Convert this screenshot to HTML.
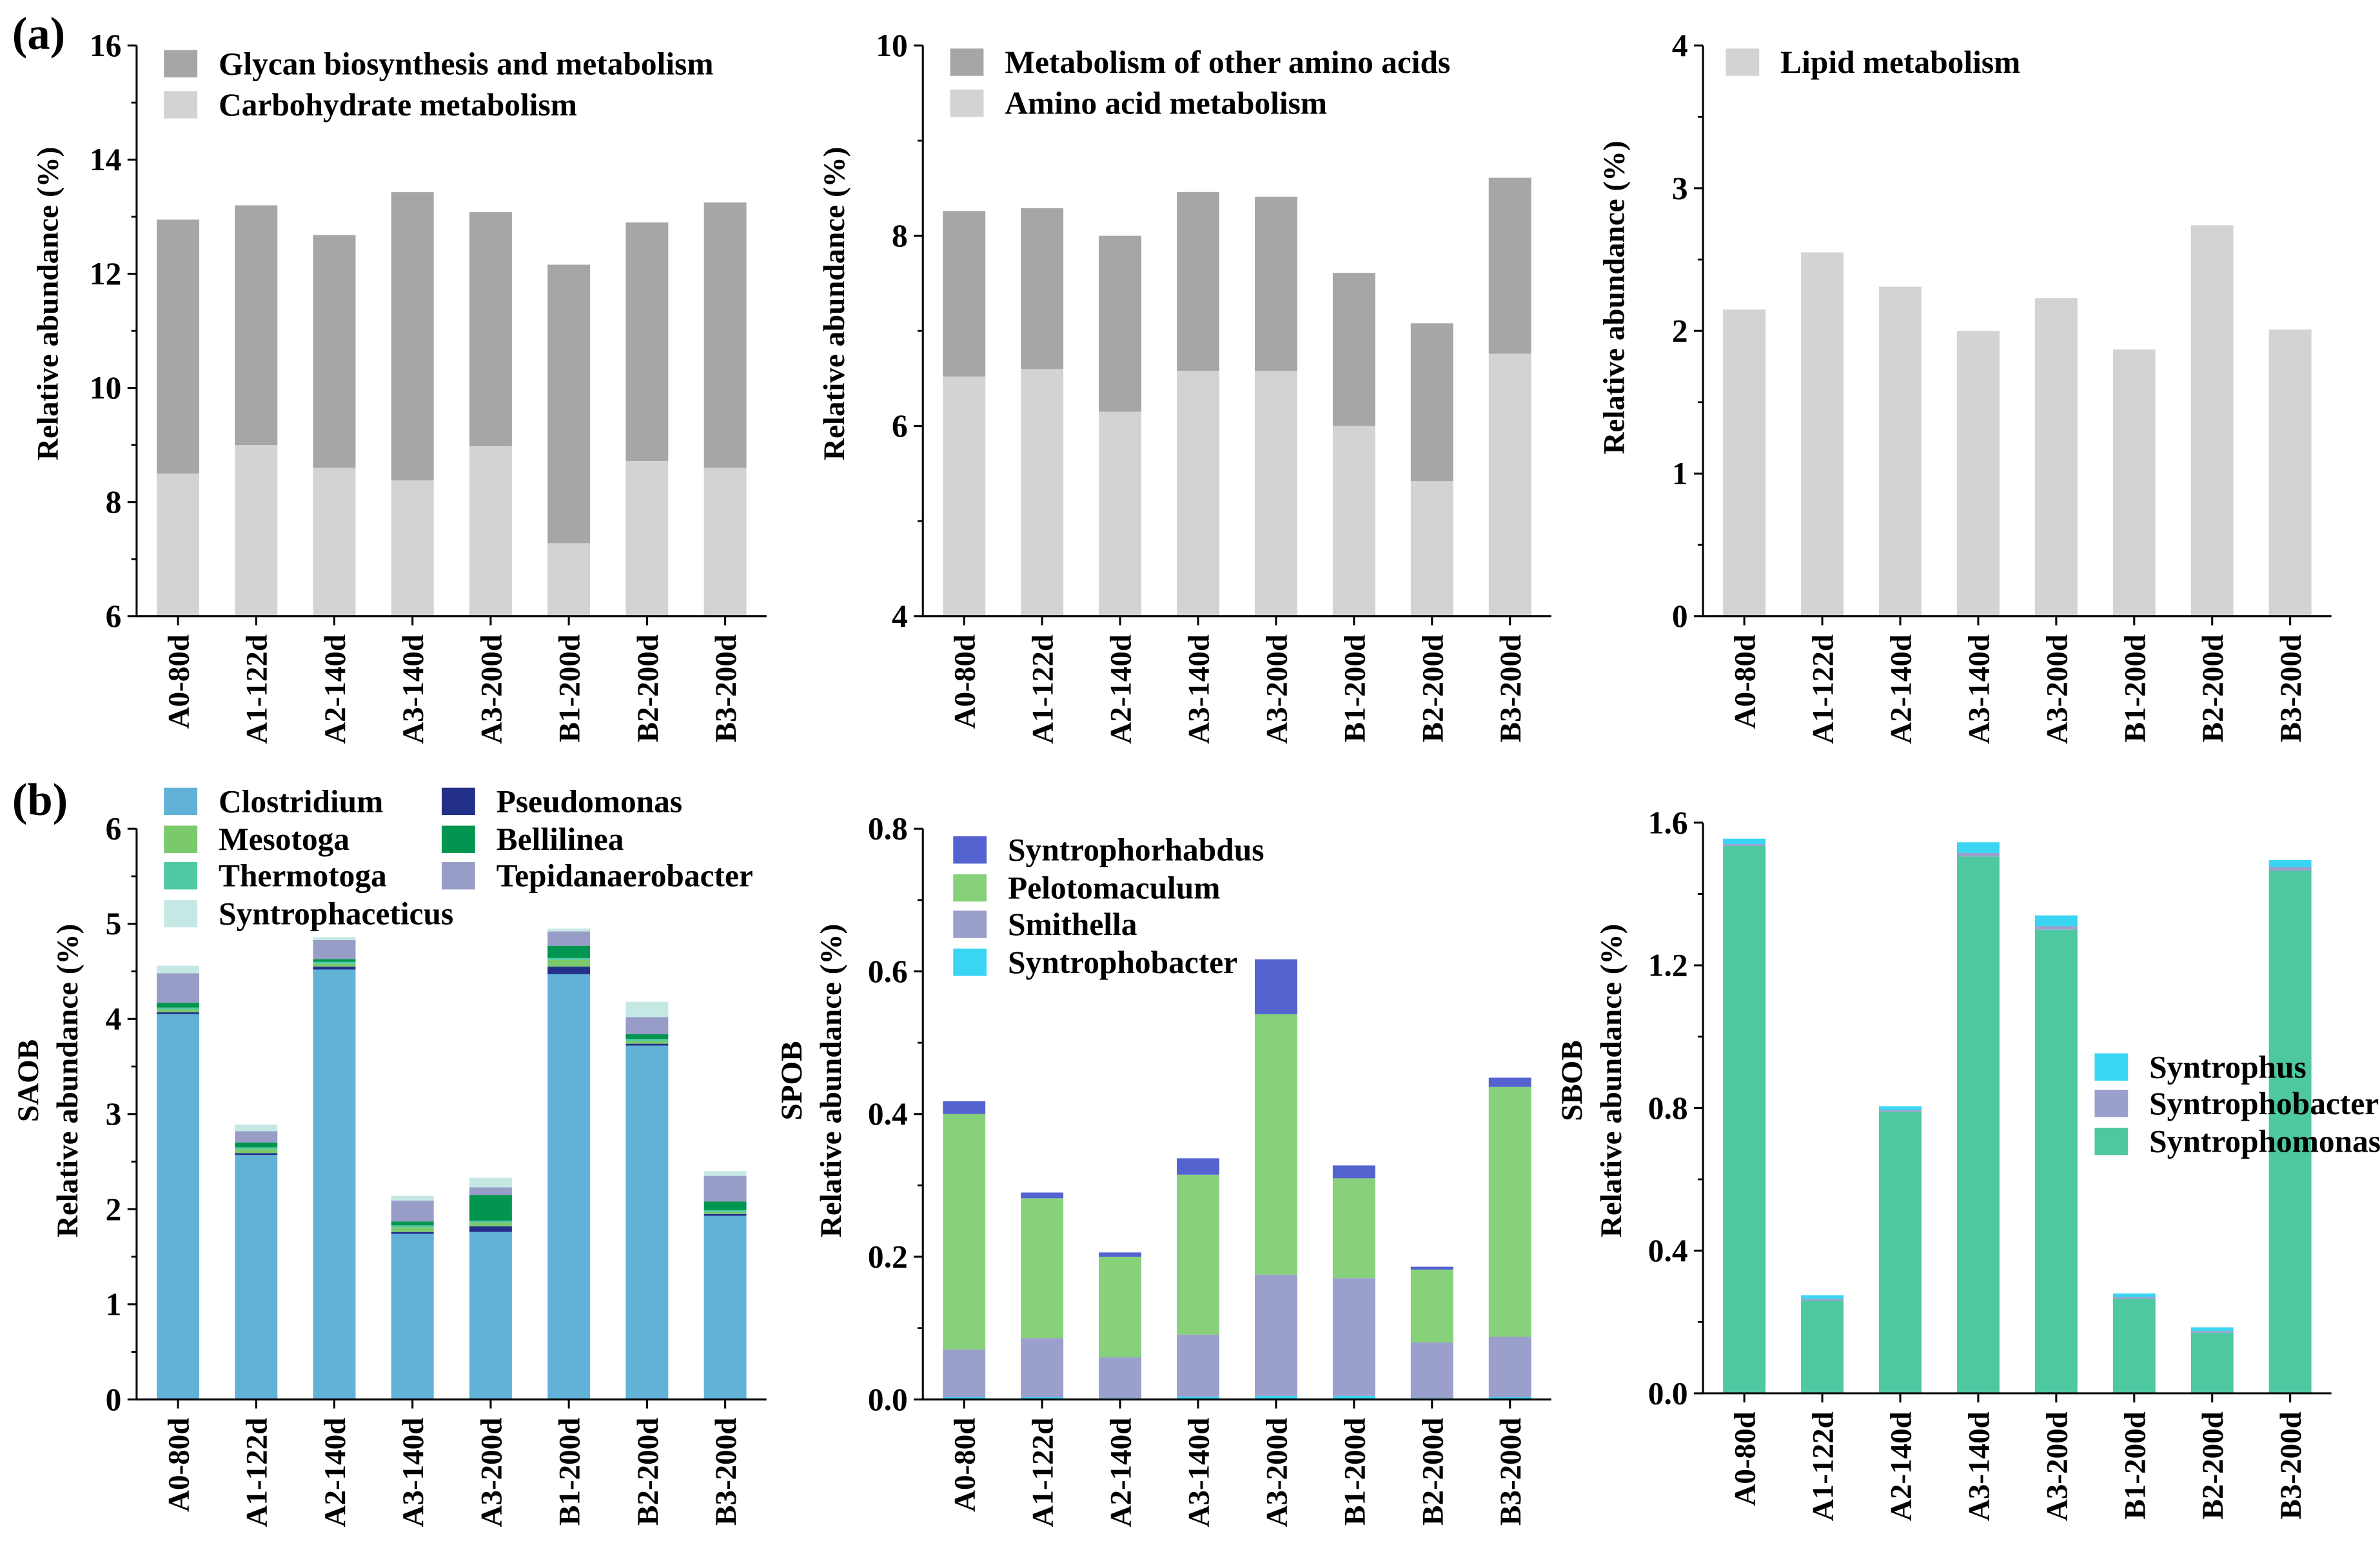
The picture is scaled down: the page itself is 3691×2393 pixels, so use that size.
<!DOCTYPE html>
<html><head><meta charset="utf-8"><style>
html,body{margin:0;padding:0;background:#fff}
svg{display:block}
text{font-family:"Liberation Serif","Times New Roman",serif;font-weight:bold;fill:#000}
</style></head><body>
<svg id="fig" width="3691" height="2393" viewBox="0 0 1568 1016.6" xmlns="http://www.w3.org/2000/svg"></svg>
<script>
const categories=["A0-80d","A1-122d","A2-140d","A3-140d","A3-200d","B1-200d","B2-200d","B3-200d"];
// panel a1
const carbValues=[8.5,9.0,8.6,8.38,8.98,7.28,8.72,8.6];
const glycanValues=[4.45,4.2,4.08,5.05,4.1,4.88,4.18,4.65];
// panel a2
const aminoValues=[6.52,6.6,6.15,6.58,6.58,6.0,5.42,6.76];
const otherAminoValues=[1.74,1.69,1.85,1.88,1.83,1.61,1.66,1.85];
// panel a3
const lipidValues=[2.15,2.55,2.31,2.0,2.23,1.87,2.74,2.01];
// panel b1 (SAOB)
const clostridium=[4.05,2.57,4.52,1.74,1.76,4.47,3.72,1.93];
const pseudomonas=[0.02,0.02,0.03,0.02,0.06,0.08,0.02,0.02];
const mesotoga=[0.03,0.04,0.03,0.05,0.04,0.07,0.03,0.02];
const thermotoga=[0.02,0.02,0.02,0.02,0.02,0.02,0.02,0.02];
const bellilinea=[0.05,0.05,0.03,0.04,0.27,0.13,0.05,0.09];
const tepidanaerobacter=[0.31,0.12,0.2,0.22,0.08,0.15,0.18,0.27];
const syntrophaceticus=[0.08,0.07,0.03,0.05,0.1,0.03,0.16,0.05];
// panel b2 (SPOB)
const spobSyntrophobacter=[0.003,0.003,0.002,0.004,0.005,0.005,0.002,0.003];
const smithella=[0.067,0.083,0.057,0.087,0.17,0.165,0.078,0.085];
const pelotomaculum=[0.33,0.196,0.141,0.224,0.365,0.14,0.102,0.35];
const syntrophorhabdus=[0.018,0.008,0.006,0.023,0.077,0.018,0.004,0.013];
// panel b3 (SBOB)
const syntrophomonas=[1.535,0.26,0.79,1.505,1.3,0.265,0.17,1.465];
const sbobSyntrophobacter=[0.005,0.005,0.005,0.01,0.01,0.005,0.005,0.01];
const syntrophus=[0.015,0.01,0.01,0.03,0.03,0.01,0.01,0.02];
const ticksA1=["6","8","10","12","14","16"];
const ticksA2=["4","6","8","10"];
const ticksA3=["0","1","2","3","4"];
const ticksB1=["0","1","2","3","4","5","6"];
const ticksB2=["0.0","0.2","0.4","0.6","0.8"];
const ticksB3=["0.0","0.4","0.8","1.2","1.6"];

const NS="http://www.w3.org/2000/svg";
const svg=document.getElementById('fig');
function el(tag,attrs,parent){const e=document.createElementNS(NS,tag);for(const k in attrs)e.setAttribute(k,attrs[k]);(parent||svg).appendChild(e);return e;}

function panel(o){
  const g=el('g',{});
  
  
  const ymin=parseFloat(o.ticks[0]),ymax=parseFloat(o.ticks[o.ticks.length-1]);
  const y=v=>o.y0+(v-ymin)/(ymax-ymin)*(o.y1-o.y0);
  const step=(o.x1-o.x0-3)/8;
  const xc=i=>o.x0+1.5+step*(i+0.5);
  const bw=28;
  for(let i=0;i<categories.length;i++){
    let base=0;
    o.series.forEach((s,si)=>{
      const v=s.values[i];
      const top=base+v;
      const lo=Math.max(base,ymin);
      if(top>lo){
        const r=el('rect',{x:xc(i)-bw/2,y:y(top),width:bw,height:y(lo)-y(top),fill:s.color},g);
        
        
      }
      base=top;
    });
  }
  const ax=el('path',{d:`M${o.x0},${o.y1} V${o.y0} H${o.x1}`,stroke:'#000','stroke-width':1.3,fill:'none'},g);
  
  
  o.ticks.forEach((t,k)=>{
    const v=parseFloat(t);
    el('line',{x1:o.x0-6,x2:o.x0,y1:y(v),y2:y(v),stroke:'#000','stroke-width':1.3},g);
    if(k<o.ticks.length-1){const vm=(v+parseFloat(o.ticks[k+1]))/2;el('line',{x1:o.x0-3.5,x2:o.x0,y1:y(vm),y2:y(vm),stroke:'#000','stroke-width':1.2},g);}
    const tx=el('text',{x:o.x0-10,y:y(v)+7,'text-anchor':'end','font-size':21},g);
    tx.textContent=t;
    
    
  });
  categories.forEach((c,i)=>{
    el('line',{x1:xc(i),x2:xc(i),y1:o.y0,y2:o.y0+6,stroke:'#000','stroke-width':1.3},g);
    const tx=el('text',{x:0,y:0,'text-anchor':'end','font-size':20,transform:`translate(${xc(i)+7},${o.y0+12}) rotate(-90)`},g);
    tx.textContent=c;
    
    
  });
  o.titles.forEach(t=>{
    const tx=el('text',{x:0,y:0,'text-anchor':'middle','font-size':20,transform:`translate(${t.x},${t.y}) rotate(-90)`},g);
    tx.textContent=t.text;
    
    
  });
  o.legend.forEach(l=>{
    const r=el('rect',{x:l.x,y:l.y-9,width:22,height:18,fill:l.color},g);
    
    
    const tx=el('text',{x:l.x+36,y:l.y+7,'font-size':21},g);
    tx.textContent=l.text;
    
    
  });
}

const C={glycan:'#a6a6a6',carb:'#d3d3d3',clos:'#62b2d7',pseu:'#23308a',meso:'#7ac96c',therm:'#4fc9a3',bell:'#019550',tepid:'#979dc6',syac:'#c6e8e5',srh:'#5563d1',pelo:'#87d17b',smit:'#9a9fcb',sbac:'#3ad5f3',sbom:'#4dc8a1'};

panel({name:'panel-a1',x0:90,x1:505,y0:406,y1:30,ticks:ticksA1,
 series:[{key:'carb',values:carbValues,color:C.carb},{key:'glycan',values:glycanValues,color:C.glycan}],
 titles:[{x:38,y:200,text:'Relative abundance (%)'}],
 legend:[{x:108,y:42,color:C.glycan,text:'Glycan biosynthesis and metabolism'},{x:108,y:69,color:C.carb,text:'Carbohydrate metabolism'}]});
panel({name:'panel-a2',x0:608,x1:1022,y0:406,y1:30,ticks:ticksA2,
 series:[{key:'amino',values:aminoValues,color:C.carb},{key:'other-amino',values:otherAminoValues,color:C.glycan}],
 titles:[{x:556,y:200,text:'Relative abundance (%)'}],
 legend:[{x:626,y:41,color:C.glycan,text:'Metabolism of other amino acids'},{x:626,y:68,color:C.carb,text:'Amino acid metabolism'}]});
panel({name:'panel-a3',x0:1122,x1:1536,y0:406,y1:30,ticks:ticksA3,
 series:[{key:'lipid',values:lipidValues,color:C.carb}],
 titles:[{x:1070,y:196,text:'Relative abundance (%)'}],
 legend:[{x:1137,y:41,color:C.carb,text:'Lipid metabolism'}]});
panel({name:'panel-b1',x0:90,x1:505,y0:922,y1:546,ticks:ticksB1,
 series:[{key:'clostridium',values:clostridium,color:C.clos},{key:'pseudomonas',values:pseudomonas,color:C.pseu},{key:'mesotoga',values:mesotoga,color:C.meso},{key:'thermotoga',values:thermotoga,color:C.therm},{key:'bellilinea',values:bellilinea,color:C.bell},{key:'tepidanaerobacter',values:tepidanaerobacter,color:C.tepid},{key:'syntrophaceticus',values:syntrophaceticus,color:C.syac}],
 titles:[{x:25,y:712,text:'SAOB'},{x:51,y:712,text:'Relative abundance (%)'}],
 legend:[{x:108,y:528,color:C.clos,text:'Clostridium'},{x:108,y:553,color:C.meso,text:'Mesotoga'},{x:108,y:577,color:C.therm,text:'Thermotoga'},{x:108,y:602,color:C.syac,text:'Syntrophaceticus'},
 {x:291,y:528,color:C.pseu,text:'Pseudomonas'},{x:291,y:553,color:C.bell,text:'Bellilinea'},{x:291,y:577,color:C.tepid,text:'Tepidanaerobacter'}]});
panel({name:'panel-b2',x0:608,x1:1022,y0:922,y1:546,ticks:ticksB2,
 series:[{key:'syntrophobacter',values:spobSyntrophobacter,color:C.sbac},{key:'smithella',values:smithella,color:C.smit},{key:'pelotomaculum',values:pelotomaculum,color:C.pelo},{key:'syntrophorhabdus',values:syntrophorhabdus,color:C.srh}],
 titles:[{x:528,y:712,text:'SPOB'},{x:554,y:712,text:'Relative abundance (%)'}],
 legend:[{x:628,y:560,color:C.srh,text:'Syntrophorhabdus'},{x:628,y:585,color:C.pelo,text:'Pelotomaculum'},{x:628,y:609,color:C.smit,text:'Smithella'},{x:628,y:634,color:C.sbac,text:'Syntrophobacter'}]});
panel({name:'panel-b3',x0:1122,x1:1536,y0:918,y1:542,ticks:ticksB3,
 series:[{key:'syntrophomonas',values:syntrophomonas,color:C.sbom},{key:'syntrophobacter',values:sbobSyntrophobacter,color:C.smit},{key:'syntrophus',values:syntrophus,color:C.sbac}],
 titles:[{x:1042,y:712,text:'SBOB'},{x:1068,y:712,text:'Relative abundance  (%)'}],
 legend:[{x:1380,y:703,color:C.sbac,text:'Syntrophus'},{x:1380,y:727,color:C.smit,text:'Syntrophobacter'},{x:1380,y:752,color:C.sbom,text:'Syntrophomonas'}]});

const la=el('text',{x:8,y:32,'font-size':30});la.textContent='(a)';


const lb=el('text',{x:8,y:537,'font-size':30});lb.textContent='(b)';


</script>
</body></html>
